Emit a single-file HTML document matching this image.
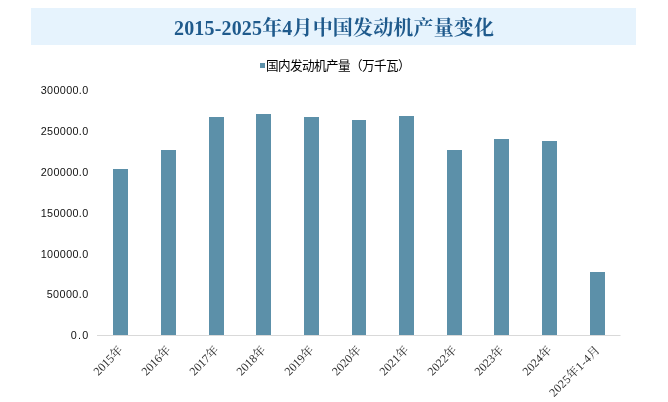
<!DOCTYPE html>
<html lang="zh-CN">
<head>
<meta charset="utf-8">
<title>2015-2025年4月中国发动机产量变化</title>
<style>
html,body{margin:0;padding:0;background:#fff;}
body{width:668px;height:402px;overflow:hidden;}
svg{display:block;}
.title{font-family:"Liberation Serif","Noto Serif CJK SC",serif;font-weight:bold;font-size:20px;fill:#1f5a8c;}
.legend{font-family:"Liberation Sans","Noto Sans CJK SC",sans-serif;font-size:12.6px;letter-spacing:-0.6px;fill:#000;}
.yl{font-family:"Liberation Sans","Noto Sans CJK SC",sans-serif;font-size:10.8px;fill:#111;}
.xl{font-family:"Liberation Serif","Noto Serif CJK SC",serif;font-size:12px;fill:#333;}
</style>
</head>
<body>
<svg width="668" height="402" viewBox="0 0 668 402">
<rect x="0" y="0" width="668" height="402" fill="#ffffff"/>
<rect x="31" y="8" width="605" height="37" fill="#e6f3fd"/>
<text class="title" x="174" y="34.5" textLength="320" lengthAdjust="spacing">2015-2025年4月中国发动机产量变化</text>
<rect x="260" y="63" width="5" height="5" fill="#5c90a9"/>
<text class="legend" x="266" y="69.6">国内发动机产量（万千瓦）</text>
<text class="yl" x="40.7" y="94" textLength="47.5" lengthAdjust="spacing">300000.0</text>
<text class="yl" x="40.7" y="135" textLength="47.5" lengthAdjust="spacing">250000.0</text>
<text class="yl" x="40.7" y="176" textLength="47.5" lengthAdjust="spacing">200000.0</text>
<text class="yl" x="40.7" y="217" textLength="47.5" lengthAdjust="spacing">150000.0</text>
<text class="yl" x="40.7" y="258" textLength="47.5" lengthAdjust="spacing">100000.0</text>
<text class="yl" x="46.7" y="298" textLength="41.5" lengthAdjust="spacing">50000.0</text>
<text class="yl" x="70.7" y="339" textLength="17.5" lengthAdjust="spacing">0.0</text>
<line x1="97" y1="335.5" x2="620.5" y2="335.5" stroke="#d9d9d9" stroke-width="1"/>
<rect x="113" y="169" width="15" height="166" fill="#5c90a9"/>
<rect x="161" y="150" width="15" height="185" fill="#5c90a9"/>
<rect x="209" y="117" width="15" height="218" fill="#5c90a9"/>
<rect x="256" y="114" width="15" height="221" fill="#5c90a9"/>
<rect x="304" y="117" width="15" height="218" fill="#5c90a9"/>
<rect x="352" y="120" width="14" height="215" fill="#5c90a9"/>
<rect x="399" y="116" width="15" height="219" fill="#5c90a9"/>
<rect x="447" y="150" width="15" height="185" fill="#5c90a9"/>
<rect x="494" y="139" width="15" height="196" fill="#5c90a9"/>
<rect x="542" y="141" width="15" height="194" fill="#5c90a9"/>
<rect x="590" y="272" width="15" height="63" fill="#5c90a9"/>
<text class="xl" text-anchor="end" transform="translate(123.6,350.8) rotate(-45)">2015年</text>
<text class="xl" text-anchor="end" transform="translate(171.6,350.8) rotate(-45)">2016年</text>
<text class="xl" text-anchor="end" transform="translate(219.6,350.8) rotate(-45)">2017年</text>
<text class="xl" text-anchor="end" transform="translate(266.6,350.8) rotate(-45)">2018年</text>
<text class="xl" text-anchor="end" transform="translate(314.6,350.8) rotate(-45)">2019年</text>
<text class="xl" text-anchor="end" transform="translate(362.1,350.8) rotate(-45)">2020年</text>
<text class="xl" text-anchor="end" transform="translate(409.6,350.8) rotate(-45)">2021年</text>
<text class="xl" text-anchor="end" transform="translate(457.6,350.8) rotate(-45)">2022年</text>
<text class="xl" text-anchor="end" transform="translate(504.6,350.8) rotate(-45)">2023年</text>
<text class="xl" text-anchor="end" transform="translate(552.6,350.8) rotate(-45)">2024年</text>
<text class="xl" x="-66" y="0" textLength="66" lengthAdjust="spacing" transform="translate(600.6,350.8) rotate(-45)">2025年1-4月</text>
</svg>
</body>
</html>
